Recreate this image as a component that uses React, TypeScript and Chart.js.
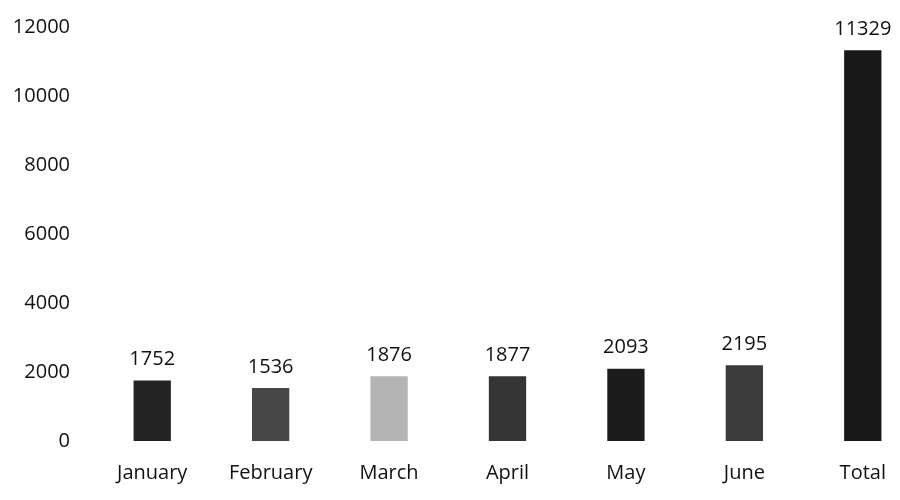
import React, { useEffect, useRef } from "react";
import { Chart, registerables } from "chart.js";

Chart.register(...registerables);

const categories = ["January", "February", "March", "April", "May", "June", "Total"];
const values = [1752, 1536, 1876, 1877, 2093, 2195, 11329];
const barColors = ["#232323", "#474747", "#b4b4b4", "#353535", "#1c1c1c", "#3c3c3c", "#181818"];
const yTicks = [0, 2000, 4000, 6000, 8000, 10000, 12000];

const FONT = "'Open Sans', 'DejaVu Sans', sans-serif";

const valueLabels = {
  id: "valueLabels",
  afterDatasetsDraw(chart: any) {
    const ctx = chart.ctx;
    const meta = chart.getDatasetMeta(0);
    ctx.save();
    ctx.font = `20px ${FONT}`;
    ctx.fillStyle = "#111";
    ctx.textAlign = "center";
    ctx.textBaseline = "middle";
    meta.data.forEach((bar: any, i: number) => {
      ctx.fillText(String(values[i]), bar.x, bar.y - 21);
    });
    ctx.restore();
  },
};

export default function App() {
  const ref = useRef<HTMLCanvasElement | null>(null);
  useEffect(() => {
    document.body.style.margin = "0";
    document.body.style.overflow = "hidden";
    document.body.style.background = "#fff";
    const chart = new Chart(ref.current!, {
      type: "bar",
      data: {
        labels: categories,
        datasets: [
          {
            data: values,
            backgroundColor: barColors,
            barPercentage: 0.315,
            categoryPercentage: 1,
          },
        ],
      },
      options: {
        animation: false,
        responsive: false,
        maintainAspectRatio: false,
        layout: { padding: { top: 8, right: 0, bottom: 0, left: 0 } },
        plugins: { legend: { display: false }, tooltip: { enabled: false } },
        scales: {
          x: {
            grid: { display: false },
            border: { display: false },
            ticks: { color: "#111", font: { family: FONT, size: 20 }, padding: 12, maxRotation: 0 },
            afterFit: (s: any) => {
              s.height = 59;
            },
          },
          y: {
            min: 0,
            max: 12000,
            grid: { display: false },
            border: { display: false },
            afterBuildTicks: (s: any) => {
              s.ticks = yTicks.map((v) => ({ value: v }));
            },
            ticks: {
              color: "#111",
              font: { family: FONT, size: 20 },
              padding: 15,
              callback: (v: any) => String(v),
            },
            afterFit: (s: any) => {
              s.width = 93;
            },
          },
        },
      },
      plugins: [valueLabels],
    });
    return () => chart.destroy();
  }, []);
  return (
    <div style={{ position: "absolute", left: 0, top: 0, width: 922, height: 500 }}>
      <canvas ref={ref} width={922} height={500} style={{ width: 922, height: 500 }} />
    </div>
  );
}
